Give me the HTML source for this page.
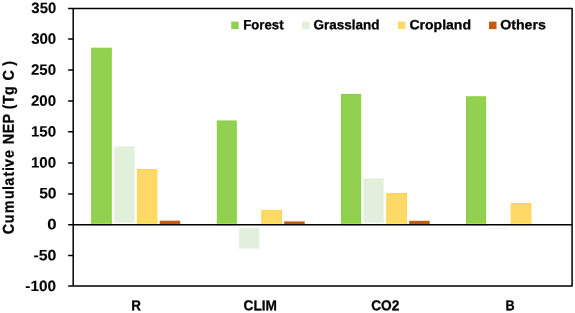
<!DOCTYPE html>
<html><head><meta charset="utf-8"><title>Cumulative NEP</title>
<style>
html,body{margin:0;padding:0;background:#fff;}
svg{display:block}
text{font-family:"Liberation Sans",sans-serif;font-weight:bold;fill:#000;stroke:#000;stroke-linejoin:round}
</style></head><body>
<svg width="575" height="313" viewBox="0 0 575 313">
<rect width="575" height="313" fill="#fff"/>
<rect x="91.70" y="48.2" width="19.55" height="176.6" fill="#92D050" stroke="#87CC41" stroke-width="1"/>
<rect x="91.50" y="222.9" width="19.95" height="1.3" fill="#A1E540"/>
<rect x="114.20" y="146.5" width="20.10" height="76.1" fill="#E2EFDA" stroke="#ECF5E7" stroke-width="1"/>
<rect x="137.40" y="169.5" width="19.50" height="55.3" fill="#FFD966" stroke="#FFD450" stroke-width="1"/>
<rect x="137.20" y="222.9" width="19.90" height="1.3" fill="#FFEC50"/>
<rect x="159.7" y="220.7" width="20.50" height="4.1" fill="#C55A11"/>
<rect x="217.30" y="121.0" width="18.90" height="103.8" fill="#92D050" stroke="#87CC41" stroke-width="1"/>
<rect x="217.10" y="222.9" width="19.30" height="1.3" fill="#A1E540"/>
<rect x="239.20" y="227.9" width="19.90" height="20.4" fill="#E2EFDA" stroke="#ECF5E7" stroke-width="1"/>
<rect x="261.80" y="210.4" width="19.70" height="14.4" fill="#FFD966" stroke="#FFD450" stroke-width="1"/>
<rect x="261.60" y="222.9" width="20.10" height="1.3" fill="#FFEC50"/>
<rect x="284.2" y="221.4" width="20.50" height="3.4" fill="#C55A11"/>
<rect x="341.60" y="94.5" width="19.10" height="130.3" fill="#92D050" stroke="#87CC41" stroke-width="1"/>
<rect x="341.40" y="222.9" width="19.50" height="1.3" fill="#A1E540"/>
<rect x="363.70" y="178.5" width="19.90" height="44.1" fill="#E2EFDA" stroke="#ECF5E7" stroke-width="1"/>
<rect x="386.80" y="193.5" width="19.70" height="31.3" fill="#FFD966" stroke="#FFD450" stroke-width="1"/>
<rect x="386.60" y="222.9" width="20.10" height="1.3" fill="#FFEC50"/>
<rect x="409.2" y="220.8" width="20.50" height="4.0" fill="#C55A11"/>
<rect x="466.60" y="96.8" width="19.00" height="128.0" fill="#92D050" stroke="#87CC41" stroke-width="1"/>
<rect x="466.40" y="222.9" width="19.40" height="1.3" fill="#A1E540"/>
<rect x="488.7" y="227.7" width="19.60" height="1" fill="#E9F4E2"/>
<rect x="511.20" y="203.5" width="19.70" height="21.3" fill="#FFD966" stroke="#FFD450" stroke-width="1"/>
<rect x="511.00" y="222.9" width="20.10" height="1.3" fill="#FFEC50"/>
<g stroke="#000" stroke-width="1.5" fill="none" stroke-linejoin="round">
<path d="M68.2,8.5 H572.1 V286.1 H68.2"/>
<path d="M68.2,224.8 H572.1"/>
<path d="M73.2,8.5 V286.1"/>
<path d="M68.2,39.1 H73.2M68.2,69.9 H73.2M68.2,100.9 H73.2M68.2,131.7 H73.2M68.2,163.0 H73.2M68.2,193.9 H73.2M68.2,255.4 H73.2"/>
</g>
<rect x="231.2" y="21.6" width="7.5" height="7.5" fill="#92D050"/>
<rect x="302.1" y="21.6" width="7.5" height="7.5" fill="#E2EFDA"/>
<rect x="397.8" y="21.6" width="7.5" height="7.5" fill="#FFD966"/>
<rect x="489.0" y="21.6" width="7.5" height="7.5" fill="#C55A11"/>
<text transform="translate(31.36,12.90) rotate(0.05)" font-size="14.9" stroke-width="0.1" textLength="24.82" lengthAdjust="spacingAndGlyphs">350</text>
<text transform="translate(31.15,43.81) rotate(0.05)" font-size="14.9" stroke-width="0.1" textLength="25.07" lengthAdjust="spacingAndGlyphs">300</text>
<text transform="translate(30.99,74.72) rotate(0.05)" font-size="14.9" stroke-width="0.1" textLength="25.12" lengthAdjust="spacingAndGlyphs">250</text>
<text transform="translate(30.99,105.63) rotate(0.05)" font-size="14.9" stroke-width="0.1" textLength="25.12" lengthAdjust="spacingAndGlyphs">200</text>
<text transform="translate(30.98,136.54) rotate(0.05)" font-size="14.9" stroke-width="0.1" textLength="25.20" lengthAdjust="spacingAndGlyphs">150</text>
<text transform="translate(30.98,167.45) rotate(0.05)" font-size="14.9" stroke-width="0.1" textLength="25.20" lengthAdjust="spacingAndGlyphs">100</text>
<text transform="translate(39.13,198.36) rotate(0.05)" font-size="14.9" stroke-width="0.1" textLength="17.43" lengthAdjust="spacingAndGlyphs">50</text>
<text transform="translate(47.15,229.27) rotate(0.05)" font-size="14.9" stroke-width="0.1" textLength="9.32" lengthAdjust="spacingAndGlyphs">0</text>
<text transform="translate(33.44,260.18) rotate(0.05)" font-size="14.9" stroke-width="0.1" textLength="22.98" lengthAdjust="spacingAndGlyphs">-50</text>
<text transform="translate(25.35,291.09) rotate(0.05)" font-size="14.9" stroke-width="0.1" textLength="30.73" lengthAdjust="spacingAndGlyphs">-100</text>
<text transform="translate(131.24,310.30) rotate(0.05)" font-size="14.25" stroke-width="0.3" textLength="9.63" lengthAdjust="spacingAndGlyphs">R</text>
<text transform="translate(243.52,310.30) rotate(0.05)" font-size="14.25" stroke-width="0.3" textLength="33.39" lengthAdjust="spacingAndGlyphs">CLIM</text>
<text transform="translate(371.13,310.30) rotate(0.05)" font-size="14.25" stroke-width="0.3" textLength="28.16" lengthAdjust="spacingAndGlyphs">CO2</text>
<text transform="translate(505.52,310.30) rotate(0.05)" font-size="14.25" stroke-width="0.3" textLength="9.10" lengthAdjust="spacingAndGlyphs">B</text>
<text transform="translate(243.27,29.30) rotate(0.05)" font-size="13.4" stroke-width="0.3" textLength="40.30" lengthAdjust="spacingAndGlyphs">Forest</text>
<text transform="translate(313.49,29.30) rotate(0.05)" font-size="13.4" stroke-width="0.3" textLength="65.88" lengthAdjust="spacingAndGlyphs">Grassland</text>
<text transform="translate(409.39,29.30) rotate(0.05)" font-size="13.4" stroke-width="0.3" textLength="61.65" lengthAdjust="spacingAndGlyphs">Cropland</text>
<text transform="translate(500.19,29.30) rotate(0.05)" font-size="13.4" stroke-width="0.3" textLength="45.70" lengthAdjust="spacingAndGlyphs">Others</text>
<text transform="translate(13.85,0) rotate(-89.95) scale(0.9145,1)" font-size="15.7" stroke-width="0.25" x="-256.25 -244.10 -233.11 -217.64 -207.81 -203.22 -193.08 -187.00 -182.61 -172.90 -165.36 -157.81 -145.63 -135.18 -127.27 -119.35 -113.66 -103.77 -95.85 -87.93 -79.92 -71.92" xml:space="preserve">Cumulative NEP (Tg C )</text>
</svg>
</body></html>
